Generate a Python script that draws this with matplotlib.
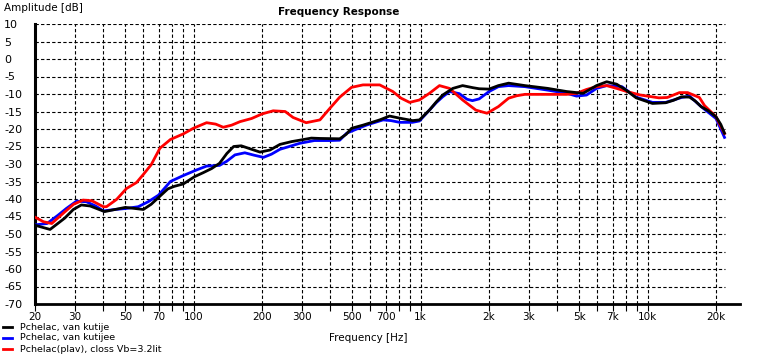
import matplotlib
matplotlib.use("Agg")
import matplotlib.pyplot as plt
from matplotlib.lines import Line2D

plt.rcParams['font.family'] = ['DejaVu Sans']

# ---------------- data ----------------
black_f = [20, 23.3, 27, 29.5, 32, 35, 40.5, 45, 50, 55, 60, 65, 71, 77, 82, 90, 101, 110, 120,
           130, 140, 150, 162, 180, 196, 217, 240, 270, 293, 330, 360, 440, 470, 496, 557, 660,
           729, 808, 922, 988, 1093, 1170, 1250, 1386, 1530, 1700, 1810, 2000, 2200, 2440, 2880,
           3630, 4400, 5200, 5950, 6600, 7300, 8000, 8900, 10500, 12000, 13000, 14100, 15300,
           16200, 17200, 18500, 20000, 21000, 21800]
black_db = [-47.5, -48.7, -45.5, -43, -41.7, -42, -43.6, -43, -42.4, -42.7, -43, -41.5, -39.2,
            -37.1, -36.4, -35.7, -33.6, -32.5, -31.3, -29.8, -27, -25, -24.8, -25.8, -26.6, -26,
            -24.4, -23.6, -23.2, -22.6, -22.7, -22.8, -21.5, -19.8, -18.9, -17.4, -16.3, -16.9,
            -17.6, -17.4, -14.6, -12.3, -10.3, -8.4, -7.6, -8.2, -8.5, -8.6, -7.6, -6.9, -7.6,
            -8.4, -9.3, -9.8, -7.6, -6.5, -7.2, -8.8, -11.1, -12.7, -12.5, -11.8, -10.8, -10.9,
            -12, -13.6, -14.8, -16.5, -18.7, -21.2]

blue_f = [20, 22.6, 25.3, 27.5, 30.5, 33.7, 37, 40, 45, 50.5, 57, 63, 70, 79, 90, 103, 114, 130,
          140, 152, 168, 185, 203, 220, 240, 293, 340, 398, 440, 472, 576, 683, 740, 808, 920,
          988, 1093, 1170, 1250, 1340, 1480, 1600, 1690, 1810, 2000, 2200, 2440, 2880, 3630,
          4400, 4860, 5380, 5950, 6600, 7700, 8900, 10500, 12000, 14100, 15300, 17200, 20000,
          21800]
blue_db = [-47.4, -47, -44.6, -42.7, -40.6, -40.8, -42, -43.4, -43, -42.7, -42.2, -40.8, -38.9,
           -35, -33.3, -31.7, -30.6, -30.4, -29.2, -27.4, -26.8, -27.5, -28.1, -27.2, -25.8,
           -24.1, -23.3, -23.3, -23.2, -21.2, -18.9, -17.4, -17.6, -18.1, -18.1, -17.7, -14.6,
           -12.5, -10.8, -9.3, -9.9, -11.5, -11.9, -11.4, -9.3, -7.9, -7.6, -7.9, -8.9, -9.8,
           -10.6, -10.3, -8.4, -7.6, -7.9, -10.9, -12.4, -12.4, -11, -10.6, -13.6, -17, -22.4]

red_f = [20, 21.8, 23.7, 26.6, 29.6, 32.6, 35.6, 40, 41.3, 45.8, 50.6, 56, 60, 65, 71, 79, 90,
         99.6, 114, 125, 135, 147, 160, 180, 200, 224, 253, 274, 313, 360, 398, 440, 496, 557,
         660, 754, 820, 894, 988, 1093, 1210, 1340, 1530, 1750, 1960, 2200, 2440, 2650, 2880,
         3630, 4400, 4860, 5380, 5950, 6600, 7300, 8100, 9300, 11200, 12200, 13800, 15000,
         16900, 17800, 20000, 21800]
red_db = [-45.2, -46.5, -47, -44.1, -41.5, -40.3, -40.5, -42.2, -42.2, -40.1, -37, -35.3, -33,
          -30.2, -25.5, -23, -21.4, -19.8, -18.2, -18.6, -19.5, -18.9, -17.9, -17, -15.7, -14.8,
          -15, -16.7, -18.2, -17.4, -14.1, -10.9, -8.1, -7.4, -7.4, -9.3, -11.2, -12.4, -11.7,
          -9.8, -7.6, -8.4, -11.7, -14.6, -15.5, -13.6, -11.2, -10.5, -10.1, -10.1, -10.1, -9.8,
          -8.7, -7.9, -7.6, -8.4, -9.3, -10.3, -11.1, -11, -9.6, -9.6, -11, -13.3, -16.5, -21.3]

series_labels = ["Pchelac, van kutije", "Pchelac, van kutijee", "Pchelac(plav), closs Vb=3.2lit"]
series_colors = ["black", "blue", "red"]

x_tick_vals = [20, 30, 50, 70, 100, 200, 300, 500, 700, 1000, 2000, 3000, 5000, 7000, 10000, 20000]
x_tick_labels = ["20", "30", "50", "70", "100", "200", "300", "500", "700", "1k", "2k", "3k",
                 "5k", "7k", "10k", "20k"]
x_minor_vals = [40, 60, 80, 90, 400, 600, 800, 900, 4000, 6000, 8000, 9000]
y_tick_vals = list(range(10, -75, -5))
grid_freqs = [m * d for d in (10, 100, 1000, 10000) for m in range(1, 10)
              if 20 <= m * d <= 20000]

# ---------------- figure ----------------
W, H = 775, 354
fig = plt.figure(figsize=(W / 100, H / 100), dpi=100)
x0, x1, y0, y1 = 35, 740, 24, 304
ax = fig.add_axes([x0 / W, 1 - y1 / H, (x1 - x0) / W, (y1 - y0) / H])
ax.set_xscale('log')
ax.set_xlim(20, 20 * 10 ** ((x1 - x0) / 227.0))
ax.set_ylim(-70, 10)

dash = (0, (3, 2))
for f in grid_freqs:
    ax.plot([f, f], [-70, 10], color='black', lw=0.8, linestyle=dash, zorder=1)
for v in y_tick_vals[:-1]:
    ax.plot([20, 21900], [v, v], color='black', lw=0.8, linestyle=dash, zorder=1)

ax.plot(blue_f, blue_db, color='blue', lw=2.0, zorder=3)
ax.plot(red_f, red_db, color='red', lw=2.0, zorder=4)
ax.plot(black_f, black_db, color='black', lw=2.0, zorder=5)

for s in ('top', 'right'):
    ax.spines[s].set_visible(False)
ax.spines['left'].set_linewidth(2.2)
ax.spines['bottom'].set_linewidth(2.0)

ax.set_xticks(x_tick_vals)
ax.set_xticklabels(x_tick_labels)
ax.set_xticks(x_minor_vals, minor=True)
ax.set_xticklabels([], minor=True)
ax.tick_params(axis='x', which='both', direction='out', length=5, width=0.8, pad=1.0,
               labelsize=7.5)
ax.set_yticks(y_tick_vals)
ax.set_yticklabels([str(v) for v in y_tick_vals])
ax.tick_params(axis='y', length=0, pad=(x0 - 4) * 0.72, labelsize=8)
for lab in ax.get_yticklabels():
    lab.set_horizontalalignment('left')

fig.text(4 / W, 1 - 8 / H, "Amplitude [dB]", fontsize=7.5, ha='left', va='center')
fig.text(339 / W, 1 - 12 / H, "Frequency Response", fontsize=7.5, fontweight='bold',
         ha='center', va='center')
fig.text(368 / W, 1 - 338 / H, "Frequency [Hz]", fontsize=7.5, ha='center', va='center')

leg_y = [327, 338, 349]
for yy, lab, col in zip(leg_y, series_labels, series_colors):
    fig.add_artist(Line2D([3 / W, 12 / W], [1 - yy / H, 1 - yy / H], color=col, lw=2.0,
                          transform=fig.transFigure))
    fig.text(20 / W, 1 - yy / H, lab, fontsize=6.8, ha='left', va='center')

fig.savefig("out.png", dpi=100)
